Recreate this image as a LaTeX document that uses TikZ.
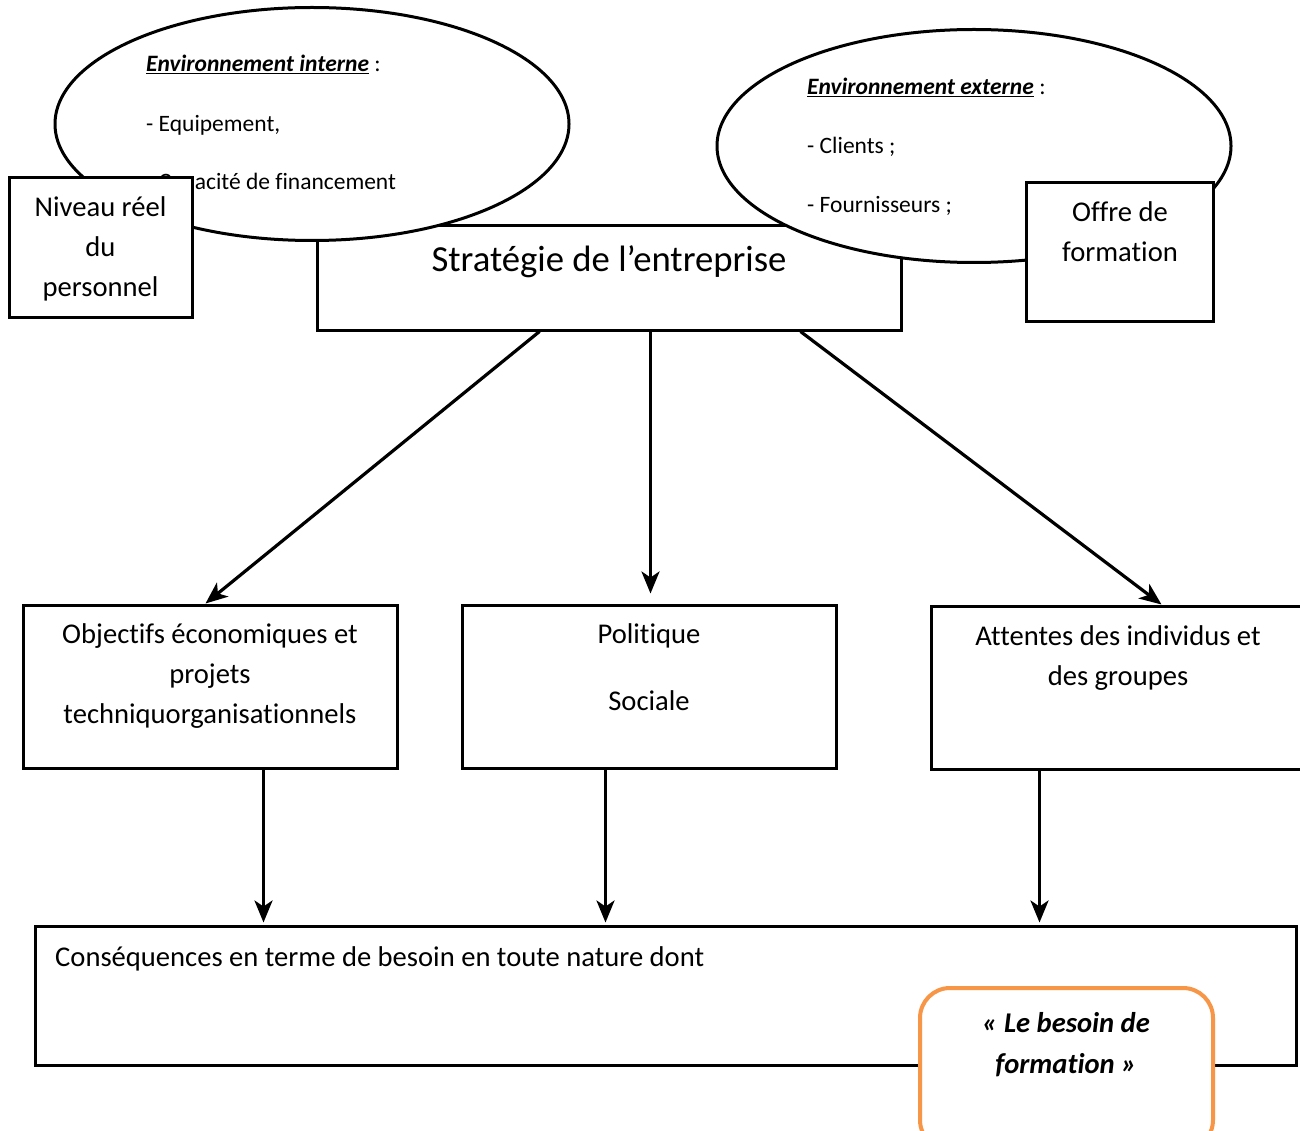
\documentclass[tikz,border=0pt]{standalone}
\usepackage{fontspec}
\setmainfont{Carlito}[Ligatures=NoCommon]
\usetikzlibrary{shapes.geometric,arrows.meta,calc}
\definecolor{accorange}{HTML}{F79646}
\begin{document}
\begin{tikzpicture}[x=1pt,y=-1pt,
  box/.style={draw,line width=3pt,fill=white,rectangle,inner sep=0pt},
  env/.style={draw,line width=3pt,fill=white,ellipse,inner sep=0pt},
  arr/.style={line width=3.2pt,-{Stealth[length=22pt,width=18pt,inset=6pt]}},
  bigtxt/.style={font=\fontsize{28.6}{40}\selectfont,align=center,inner sep=0pt},
  smalltxt/.style={font=\fontsize{23.5}{26}\selectfont,inner sep=0pt,anchor=mid west},
]
\useasboundingbox (0,0) rectangle (1300,1131);

% central strategy box
\node[box,minimum width=584pt,minimum height=104pt] (strat) at (609,278) {};
\node[font=\fontsize{36.7}{40}\selectfont,inner sep=0pt,anchor=mid] (strattxt) at (609,269) {Stratégie de l’entreprise};

% internal environment
\node[env,minimum width=514pt,minimum height=233pt] (envint) at (312,124) {};
\node[smalltxt] (envint1) at (146,69) {\underline{\textbf{\textit{Environnement interne}}} :};
\node[smalltxt] (envint2) at (146,129) {- Equipement,};
\node[smalltxt] (envint3) at (146,187) {- Capacité de financement};

% external environment
\node[env,minimum width=514pt,minimum height=233pt] (envext) at (974,146) {};
\node[smalltxt] (envext1) at (807,92) {\underline{\textbf{\textit{Environnement externe}}} :};
\node[smalltxt] (envext2) at (807,151) {- Clients ;};
\node[smalltxt] (envext3) at (807,210) {- Fournisseurs ;};

% side boxes
\node[box,minimum width=183pt,minimum height=140pt] (niveau) at (100.5,248) {};
\node[bigtxt] (niveautxt) at (100.5,249) {Niveau réel\\du\\personnel};
\node[box,minimum width=187pt,minimum height=139pt] (offre) at (1119.5,252.5) {};
\node[bigtxt] (offretxt) at (1120,232) {Offre de\\formation};

% three middle boxes
\node[box,minimum width=374pt,minimum height=163pt] (obj) at (210,686.5) {};
\node[bigtxt] (objtxt) at (210,676) {Objectifs économiques et\\projets\\techniquorganisationnels};
\node[box,minimum width=374pt,minimum height=163pt] (pol) at (649,686.5) {};
\node[bigtxt] (poltxt) at (649,667.5) {Politique\\[27pt]Sociale};
\node[box,minimum width=379pt,minimum height=163pt] (att) at (1120.5,687.5) {};
\node[bigtxt] (atttxt) at (1118,658) {Attentes des individus et\\des groupes};

% consequences box
\node[box,minimum width=1261pt,minimum height=139pt] (cons) at (665.5,995.5) {};
\node[bigtxt,anchor=mid west] (constxt) at (55,964) {Conséquences en terme de besoin en toute nature dont};

% orange box
\node[draw=accorange,line width=4pt,fill=white,rounded corners=30pt,minimum width=293pt,minimum height=162pt,inner sep=0pt] (besoin) at (1066.5,1069) {};
\node[bigtxt,font=\fontsize{28.6}{41}\selectfont\bfseries\itshape] (besointxt) at (1066,1044.5) {« Le besoin de\\formation »};

% arrows
\draw[arr] ($(strat.south west)+(224,0)$) -- ($(obj.north west)+(184,0)$);
\draw[arr] ($(strat.south west)+(335,0)$) -- ($(pol.north west)+(190,-10)$);
\draw[arr] ($(strat.south west)+(485,0)$) -- ($(att.north west)+(232,0)$);
\draw[arr] ($(obj.south west)+(242,0)$) -- ($(cons.north west)+(230,-2)$);
\draw[arr] ($(pol.south west)+(145,0)$) -- ($(cons.north west)+(572,-2)$);
\draw[arr] ($(att.south west)+(110,0)$) -- ($(cons.north west)+(1006,-2)$);
\end{tikzpicture}
\end{document}
